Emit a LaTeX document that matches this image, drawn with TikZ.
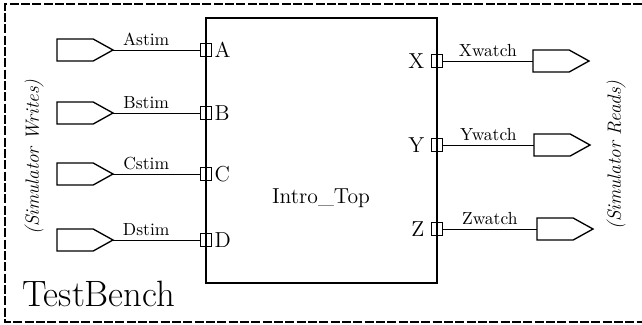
\documentclass[tikz,border=0pt]{standalone}
\usepackage{tikz}
\usetikzlibrary{shapes.symbols,positioning,calc}
\tikzset{
  frame/.style={line width=0.8pt, dash pattern=on 5.4pt off 1.4pt},
  dut/.style={rectangle, draw, line width=1.6pt, inner sep=0pt, outer sep=0pt},
  stim/.style={signal, signal to=east, signal pointer angle=58, draw,
               line width=0.8pt, minimum width=33.6pt, minimum height=13.2pt,
               inner sep=0pt, outer sep=0pt},
  watch/.style={stim},
  port/.style={rectangle, draw, line width=0.5pt, minimum width=6.8pt,
               minimum height=7.4pt, inner sep=0pt, outer sep=0pt},
  wire/.style={line width=0.6pt},
  wirelbl/.style={above, inner sep=2pt, font=\fontsize{10.5}{12}\selectfont},
  portlbl/.style={inner sep=1.5pt, font=\fontsize{13}{15}\selectfont},
  side/.style={rotate=90, font=\fontsize{11.5}{13}\selectfont\itshape}
}
\begin{document}
\begin{tikzpicture}[x=0.6pt, y=-0.6pt]
\useasboundingbox (0,0) rectangle (642,324);

% --- TestBench frame (runs off the page on the right) ---
\draw[frame] (642,4) -| (5,322) -- (642,322);
\node[font=\fontsize{22}{26}\selectfont, anchor=base west, inner sep=0pt]
  (tb) at (22,306.5) {TestBench};

% --- Device under test ---
\node[dut, minimum width=138.6pt, minimum height=159pt] (top) at (321.5,150.5) {};
\node[font=\fontsize{13}{15}\selectfont] (topname) at (321,198) {Intro\_Top};

% --- Stimulus side ---
\foreach \n/\y in {A/50,B/113,C/174,D/240}{
  \node[port] (p\n) at (206,\y) {};
  \node[portlbl, anchor=west] (l\n) at (p\n.east) {\n};
  \node[stim, anchor=west] (s\n) at (57,\y) {};
  \draw[wire] (s\n.east) -- node[wirelbl, pos=0.38] (w\n) {\n stim} (p\n.west);
}

% --- Watch side ---
\foreach \n/\y/\x in {X/61/533,Y/145/534,Z/229/537}{
  \node[port] (p\n) at (437,\y) {};
  \node[portlbl, anchor=east, inner sep=4pt] (l\n) at (p\n.west) {\n};
  \node[watch, anchor=west] (s\n) at (\x,\y) {};
  \draw[wire] (p\n.east) -- node[wirelbl] (w\n) {\n watch} (s\n.west);
}

% --- Side labels ---
\node[side] (writes) at (34,157) {(Simulator Writes)};
\node[side] (reads) at (616,155) {(Simulator Reads)};

\end{tikzpicture}
\end{document}
